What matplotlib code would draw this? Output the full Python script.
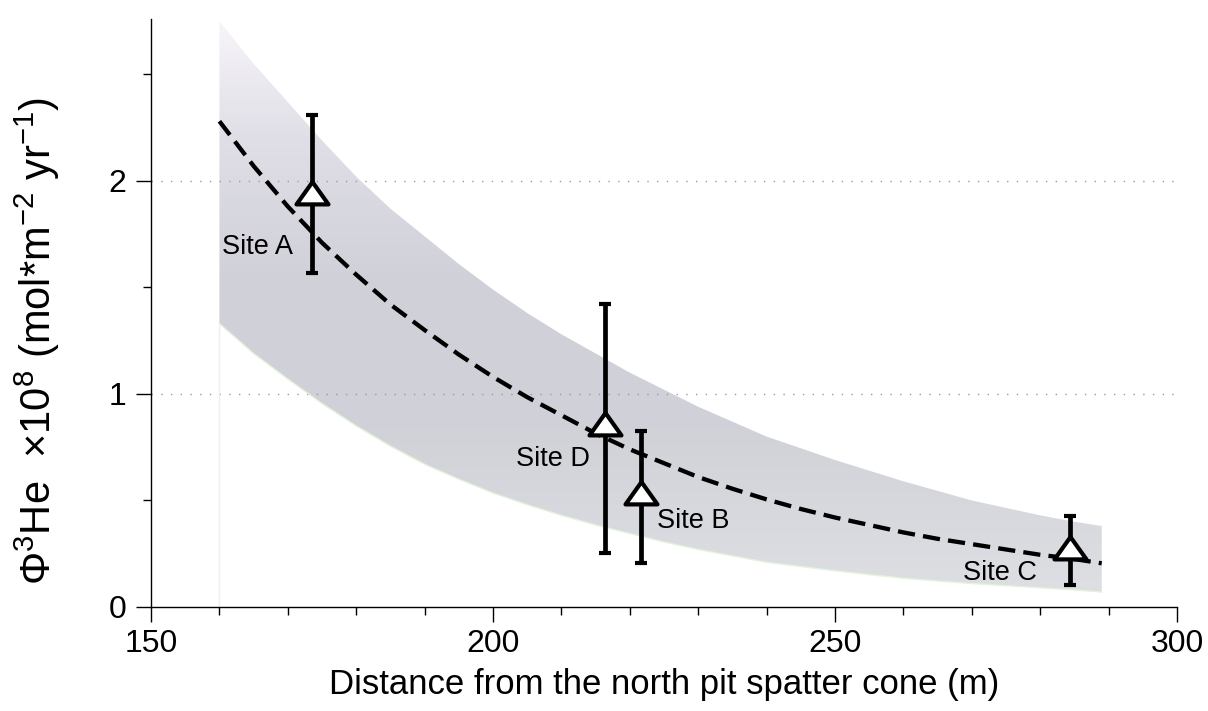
import numpy as np
import matplotlib
matplotlib.use("Agg")
import matplotlib.pyplot as plt
from matplotlib.colors import LinearSegmentedColormap
from matplotlib.path import Path

plt.rcParams['font.family'] = ['Liberation Sans', 'DejaVu Sans']
plt.rcParams['mathtext.fontset'] = 'custom'
plt.rcParams['mathtext.rm'] = 'Liberation Sans'
plt.rcParams['mathtext.it'] = 'Liberation Sans:italic'
plt.rcParams['mathtext.bf'] = 'Liberation Sans:bold'

# ---- data ----
site_names = ["Site A", "Site D", "Site B", "Site C"]
site_x = [173.5, 216.4, 221.6, 284.4]
site_flux = [1.94, 0.855, 0.53, 0.27]
site_err_low = [1.57, 0.254, 0.206, 0.103]
site_err_high = [2.31, 1.42, 0.826, 0.427]

# model fit curve and uncertainty envelope
fit_x = [160, 165, 170, 175, 180, 185, 190, 195, 200, 205, 210, 215, 220, 225,
         230, 235, 240, 245, 250, 255, 260, 265, 270, 275, 280, 285, 289]
fit_mid = [2.28, 2.07, 1.88, 1.71, 1.56, 1.42, 1.30, 1.185, 1.08, 0.985, 0.90, 0.815,
           0.74, 0.675, 0.61, 0.555, 0.505, 0.46, 0.42, 0.385, 0.35, 0.32, 0.295,
           0.27, 0.245, 0.225, 0.205]
fit_upper = [2.75, 2.55, 2.37, 2.19, 2.02, 1.87, 1.74, 1.61, 1.49, 1.38, 1.28, 1.19,
             1.10, 1.02, 0.94, 0.87, 0.80, 0.745, 0.69, 0.64, 0.59, 0.545, 0.50,
             0.465, 0.43, 0.40, 0.38]
fit_lower = [1.33, 1.19, 1.07, 0.955, 0.85, 0.755, 0.67, 0.60, 0.535, 0.48, 0.43, 0.385,
             0.345, 0.305, 0.27, 0.24, 0.21, 0.19, 0.17, 0.152, 0.135, 0.122, 0.11,
             0.10, 0.09, 0.08, 0.07]

x_ticks = [150, 200, 250, 300]
y_ticks = [0, 1, 2]

# label anchor positions (left edge, vertical centre)
label_x = [160.4, 203.4, 224.0, 268.7]
label_y = [1.69, 0.695, 0.404, 0.16]

fig = plt.figure(figsize=(12.08, 7.11), dpi=100)
ax = fig.add_axes([0.125, 0.1463, 0.8493, 0.827])
ax.set_xlim(150, 300)
ax.set_ylim(0, 2.76)

# gradient-filled envelope
poly = ax.fill_between(fit_x, fit_lower, fit_upper, facecolor='none', edgecolor='none')
clip = poly.get_paths()[0]
cmap = LinearSegmentedColormap.from_list(
    'band',
    [(0.0, (222/255, 224/255, 228/255)),
     (0.30, (208/255, 210/255, 216/255)),
     (0.55, (208/255, 208/255, 217/255)),
     (0.80, (224/255, 223/255, 231/255)),
     (1.0, (248/255, 245/255, 250/255))])
grad = np.linspace(0, 1, 256).reshape(-1, 1)
im = ax.imshow(grad, cmap=cmap, origin='lower', aspect='auto',
               extent=[fit_x[0], fit_x[-1], 0, 2.76], zorder=1, interpolation='bilinear')
im.set_clip_path(clip, transform=ax.transData)
ax.set_xlim(150, 300)
ax.set_ylim(0, 2.76)

# faint lower edge line and vertical start line
ax.plot(fit_x, fit_lower, color='#e3f3dc', lw=1.0, zorder=2)
ax.plot([fit_x[0], fit_x[0]], [0, fit_lower[0]], color='#efefef', lw=1.0, zorder=2)

# dotted reference lines
for yv in [1, 2]:
    ax.plot([150, 300], [yv, yv], color='#999999', lw=1.0,
            linestyle=(0, (1, 6)), zorder=1.5)

# fit curve
ax.plot(fit_x, fit_mid, color='black', lw=3.1, linestyle=(0, (4.0, 1.9)), zorder=3)

# error bars
yerr = [np.array(site_flux) - np.array(site_err_low),
        np.array(site_err_high) - np.array(site_flux)]
ax.errorbar(site_x, site_flux, yerr=yerr, fmt='none', ecolor='black',
            elinewidth=3.4, capsize=4.5, capthick=3.0, zorder=4)

# triangle markers (wider than tall)
tri = Path([(-1.0, -0.62), (1.0, -0.62), (0.0, 0.78), (-1.0, -0.62)],
           [Path.MOVETO, Path.LINETO, Path.LINETO, Path.CLOSEPOLY])
ax.plot(site_x, site_flux, linestyle='none', marker=tri, markersize=23,
        markerfacecolor='white', markeredgecolor='black', markeredgewidth=3.0, zorder=5)

for name, lx, ly in zip(site_names, label_x, label_y):
    ax.text(lx, ly, name, fontsize=19.5, ha='left', va='center', zorder=6)

# axes styling
for s in ['top', 'right']:
    ax.spines[s].set_visible(False)
for s in ['left', 'bottom']:
    ax.spines[s].set_linewidth(1.0)

ax.set_xticks(x_ticks)
ax.set_xticks(np.arange(160, 300, 10), minor=True)
ax.set_yticks(y_ticks)
ax.set_yticks([0.5, 1.5, 2.5], minor=True)
ax.tick_params(axis='both', which='major', direction='out', length=11, width=1.0,
               labelsize=23)
ax.tick_params(axis='x', which='major', pad=5)
ax.tick_params(axis='y', which='major', pad=7)
ax.tick_params(axis='both', which='minor', direction='out', length=5.5, width=1.0)

ax.set_xlabel('Distance from the north pit spatter cone (m)', fontsize=25, labelpad=6)
ax.set_ylabel('Φ$^{3}$He  ×10$^{8}$ (mol*m$^{-2}$ yr$^{-1}$)', fontsize=30)
ax.yaxis.set_label_coords(-0.087, 0.452)

fig.savefig('out.png', dpi=100)
